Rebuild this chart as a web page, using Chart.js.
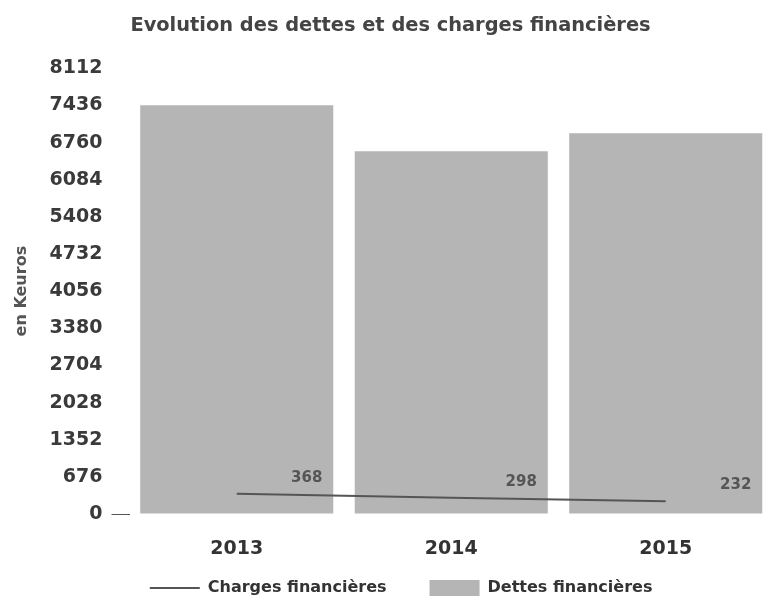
<!DOCTYPE html>
<html>
<head>
<meta charset="utf-8">
<script src="https://cdn.jsdelivr.net/npm/chart.js@4.4.1/dist/chart.umd.min.js"></script>
<style>
body { margin: 0; background: #fff; }
</style>
</head>
<body>
<canvas id="grafico" width="776" height="600"></canvas>
<script>
var annees = ["2013", "2014", "2015"];
var dettes = [7440, 6600, 6930];
var charges = [368, 298, 232];
var pasY = 676;
var maxY = 8112;

// valeurs des charges ecrites a droite de chaque point
var etiquettes = {
    id: 'etiquettes',
    afterDatasetsDraw: function (chart) {
        var meta = chart.getDatasetMeta(0);
        var ctx = chart.ctx;
        ctx.save();
        ctx.font = 'bold 15px "DejaVu Sans"';
        ctx.fillStyle = '#555';
        ctx.textAlign = 'center';
        ctx.textBaseline = 'middle';
        meta.data.forEach(function (pt, i) {
            ctx.fillText(charges[i], pt.x + 70, pt.y - 16);
        });
        ctx.restore();
    }
};

var nbsp = function (n) { return '\u00a0'.repeat(n); };

new Chart(document.getElementById("grafico"), {
    type: 'bar',
    data: {
        labels: annees,
        datasets: [
            {
                type: 'line',
                label: "Charges financières",
                data: charges,
                borderColor: '#555',
                borderWidth: 2,
                pointRadius: 0,
                pointStyle: 'line',
                tension: 0,
                fill: false
            },
            {
                label: "Dettes financières",
                data: dettes,
                backgroundColor: '#b5b5b5',
                borderWidth: 0,
                pointStyle: 'rect',
                categoryPercentage: 0.9,
                barPercentage: 1.0
            }
        ]
    },
    options: {
        responsive: false,
        animation: false,
        devicePixelRatio: 1,
        layout: { padding: { left: 8, right: 3, top: 0, bottom: -6 } },
        plugins: {
            tooltip: { enabled: false },
            title: {
                display: true,
                text: 'Evolution des dettes et des charges financières',
                font: { family: 'DejaVu Sans', size: 19.4, weight: 'bold' },
                color: '#444',
                padding: { top: 14, bottom: 31 }
            },
            legend: {
                position: 'bottom',
                fullSize: false,
                labels: {
                    usePointStyle: true,
                    pointStyleWidth: 50,
                    font: { family: 'DejaVu Sans', size: 16, weight: 'bold' },
                    color: '#333',
                    padding: 4,
                    generateLabels: function (chart) {
                        var items = Chart.defaults.plugins.legend.labels.generateLabels(chart);
                        items[0].text = items[0].text + nbsp(7);
                        items[1].text = items[1].text + nbsp(18);
                        return items;
                    }
                }
            }
        },
        scales: {
            x: {
                afterFit: function (scale) { scale.height = 62; },
                grid: { display: false, drawTicks: false },
                border: { display: false },
                ticks: {
                    font: { family: 'DejaVu Sans', size: 19, weight: 'bold' },
                    color: '#333',
                    padding: 24
                }
            },
            y: {
                min: 0,
                max: maxY,
                afterFit: function (scale) { scale.width = 121.5; },
                grid: {
                    drawOnChartArea: false,
                    tickLength: 18,
                    color: function (c) { return c.tick && c.tick.value === 0 ? '#555' : 'rgba(0,0,0,0)'; }
                },
                border: { display: false },
                ticks: {
                    stepSize: pasY,
                    padding: 9,
                    font: { family: 'DejaVu Sans', size: 19, weight: 'bold' },
                    color: '#3a3a3a',
                    callback: function (v) { return String(v); }
                },
                title: {
                    display: true,
                    text: 'en Keuros',
                    font: { family: 'DejaVu Sans', size: 16, weight: 'bold' },
                    color: '#555'
                }
            }
        }
    },
    plugins: [etiquettes]
});
</script>
</body>
</html>
